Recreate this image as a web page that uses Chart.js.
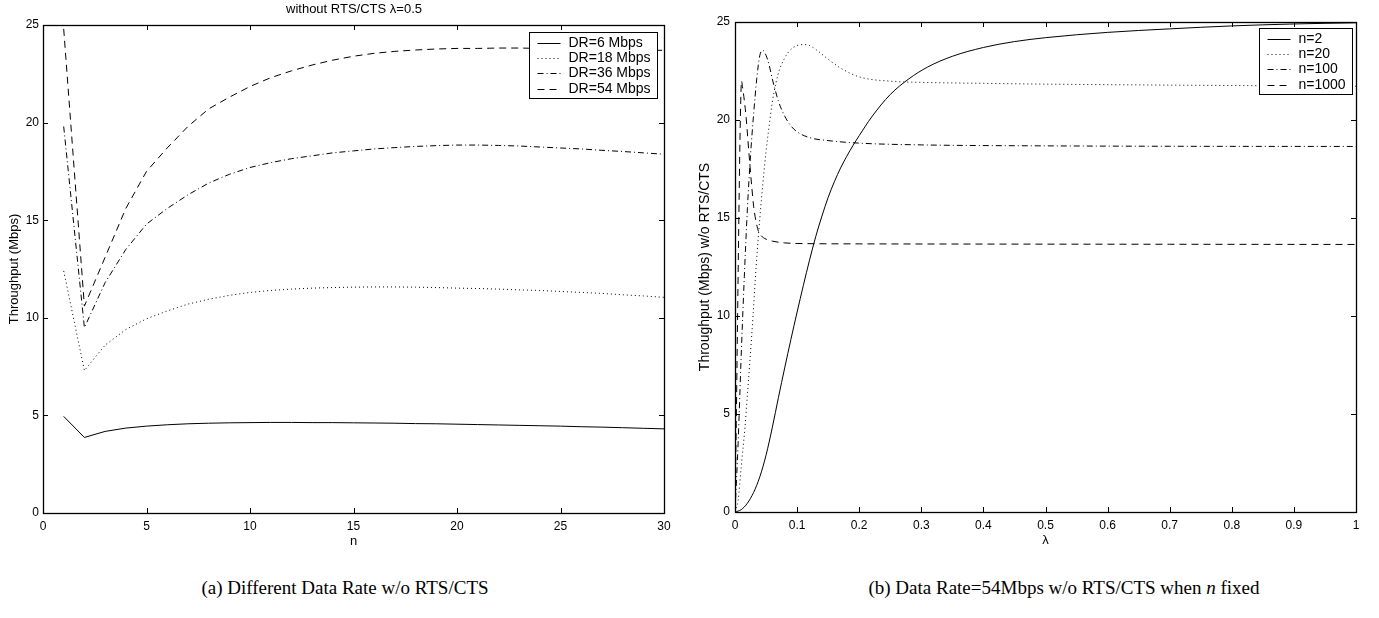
<!DOCTYPE html>
<html>
<head>
<meta charset="utf-8">
<script src="https://cdn.jsdelivr.net/npm/chart.js@4.4.1/dist/chart.umd.min.js"></script>
<style>
  html, body { margin: 0; padding: 0; background: #fff; width: 1379px; height: 618px; overflow: hidden; }
  canvas { position: absolute; top: 0; }
  .txt { position: absolute; color: #000; text-align: center; white-space: nowrap; }
  .ttl { font: 13px "Liberation Sans", Arial, sans-serif; line-height: 16px; }
  .cap { font: 19px "Liberation Serif", "Times New Roman", serif; line-height: 22px; }
</style>
</head>
<body>
<canvas id="c1" width="680" height="551" style="left:0px"></canvas>
<canvas id="c2" width="689" height="550" style="left:690px"></canvas>
<div class="txt ttl" style="left:204px;top:1px;width:300px;">without RTS/CTS λ=0.5</div>
<div class="txt cap" style="left:95px;top:577px;width:500px;">(a) Different Data Rate w/o RTS/CTS</div>
<div class="txt cap" style="left:814px;top:577px;width:500px;">(b) Data Rate=54Mbps w/o RTS/CTS when <i>n</i> fixed</div>
<script>
// ---------- Left chart data: throughput vs number of stations n ----------
const nValues = [1,2,3,4,5,6,7,8,9,10,11,12,13,14,15,16,17,18,19,20,21,22,23,24,25,26,27,28,29,30];
const dr6  = [4.95,3.87,4.18,4.35,4.45,4.52,4.57,4.60,4.62,4.63,4.64,4.64,4.63,4.63,4.62,4.61,4.60,4.58,4.57,4.55,4.53,4.51,4.49,4.47,4.45,4.42,4.40,4.37,4.34,4.31];
const dr18 = [12.4,7.3,8.6,9.4,9.95,10.35,10.7,10.95,11.15,11.3,11.4,11.47,11.52,11.55,11.57,11.58,11.58,11.57,11.55,11.52,11.5,11.47,11.43,11.4,11.35,11.3,11.25,11.18,11.12,11.05];
const dr36 = [19.8,9.5,11.8,13.5,14.8,15.6,16.3,16.9,17.35,17.7,17.95,18.15,18.3,18.45,18.55,18.65,18.72,18.78,18.82,18.85,18.85,18.83,18.8,18.75,18.7,18.65,18.58,18.52,18.45,18.38];
const dr54 = [24.8,10.6,13.1,15.6,17.5,18.7,19.8,20.7,21.3,21.85,22.3,22.65,22.95,23.2,23.4,23.55,23.65,23.72,23.77,23.8,23.8,23.82,23.82,23.8,23.8,23.78,23.76,23.74,23.72,23.7];
const leftLabels = ['DR=6 Mbps','DR=18 Mbps','DR=36 Mbps','DR=54 Mbps'];
const leftXTicks = [0,5,10,15,20,25,30];
const leftYTicks = [0,5,10,15,20,25];

// ---------- Right chart data: throughput vs lambda, n fixed ----------
const lamN2 = [0,0.01,0.02,0.03,0.04,0.05,0.06,0.07,0.08,0.09,0.1,0.11,0.12,0.13,0.14,0.15,0.16,0.17,0.18,0.19,0.2,0.22,0.25,0.28,0.31,0.35,0.4,0.45,0.5,0.6,0.7,0.8,0.9,1.0];
const thrN2 = [0,0.12,0.45,1.0,1.8,2.9,4.3,5.85,7.35,8.8,10.2,11.55,12.85,14.05,15.1,16.05,16.85,17.55,18.15,18.7,19.2,20.15,21.3,22.1,22.7,23.25,23.7,24.0,24.2,24.47,24.65,24.8,24.9,24.96];
const lamN20 = [0,0.005,0.01,0.016,0.02,0.024,0.029,0.034,0.04,0.045,0.05,0.055,0.06,0.066,0.072,0.079,0.087,0.094,0.1,0.11,0.12,0.13,0.15,0.17,0.2,0.25,0.3,0.4,0.5,0.7,1.0];
const thrN20 = [0,0.6,2.3,4.3,6.0,7.7,10.0,12.5,15.0,16.8,18.4,19.7,20.9,21.9,22.6,23.1,23.5,23.7,23.8,23.85,23.8,23.6,23.1,22.65,22.2,21.98,21.92,21.87,21.83,21.78,21.72];
const lamN100 = [0,0.005,0.01,0.015,0.02,0.025,0.03,0.035,0.04,0.045,0.05,0.055,0.06,0.065,0.07,0.08,0.09,0.1,0.12,0.15,0.2,0.3,0.5,0.7,1.0];
const thrN100 = [0,3.5,8.0,12.0,15.5,18.2,20.3,22.1,23.3,23.55,23.3,22.8,22.1,21.5,20.95,20.2,19.7,19.4,19.1,18.95,18.82,18.73,18.68,18.66,18.65];
const lamN1000 = [0,0.002,0.004,0.006,0.008,0.0095,0.0105,0.012,0.015,0.018,0.021,0.024,0.027,0.03,0.034,0.038,0.042,0.05,0.06,0.08,0.1,0.2,0.4,0.7,1.0];
const thrN1000 = [0,4.5,9.5,14.5,19.0,21.3,22.0,21.7,21.0,20.1,18.9,17.7,16.6,15.6,14.8,14.3,14.1,13.92,13.82,13.73,13.7,13.68,13.67,13.66,13.65];
const rightLabels = ['n=2','n=20','n=100','n=1000'];
const rightXTicks = [0,0.1,0.2,0.3,0.4,0.5,0.6,0.7,0.8,0.9,1];
const rightXTickLabels = ['0','0.1','0.2','0.3','0.4','0.5','0.6','0.7','0.8','0.9','1'];
const rightYTicks = [0,5,10,15,20,25];

// ---------- styles ----------
const SOLID = [], DOTTED = [1,3], DASHDOT = [6,3,1,3], DASHED = [7,5];
const styles = [SOLID, DOTTED, DASHDOT, DASHED];
const FONT = "'Liberation Sans', Arial, Helvetica, sans-serif";
Chart.defaults.font.family = FONT;
Chart.defaults.color = '#000';

function pts(xs, ys) { return xs.map((x, i) => ({x: x, y: ys[i]})); }

const frameTicks = {
  id: 'frameTicks',
  afterDatasetsDraw(chart) {
    const {ctx, chartArea: a, scales} = chart;
    const xs = scales.x, ys = scales.y;
    const L = 5;
    ctx.save();
    ctx.strokeStyle = '#000';
    ctx.lineWidth = 1;
    ctx.setLineDash([]);
    ctx.beginPath();
    xs.ticks.forEach(t => {
      const p = Math.round(xs.getPixelForValue(t.value)) + 0.5;
      ctx.moveTo(p, a.bottom); ctx.lineTo(p, a.bottom - L);
      ctx.moveTo(p, a.top); ctx.lineTo(p, a.top + L);
    });
    ys.ticks.forEach(t => {
      const p = Math.round(ys.getPixelForValue(t.value)) + 0.5;
      ctx.moveTo(a.left, p); ctx.lineTo(a.left + L, p);
      ctx.moveTo(a.right, p); ctx.lineTo(a.right - L, p);
    });
    ctx.stroke();

    // legend box
    const o = chart.options.plugins.boxLegend;
    const dsets = chart.data.datasets;
    ctx.font = '14px ' + FONT;
    let tw = 0;
    dsets.forEach(d => { tw = Math.max(tw, ctx.measureText(d.label).width); });
    const rowH = 15.3;
    const bw = Math.round(39 + tw + 7);
    const bh = Math.round(dsets.length * rowH + 5);
    const bx = Math.round(a.right - o.right - bw) + 0.5;
    const by = Math.round(a.top + o.top) + 0.5;
    ctx.fillStyle = '#fff';
    ctx.fillRect(bx, by, bw, bh);
    ctx.lineWidth = 1;
    ctx.strokeRect(bx, by, bw, bh);
    dsets.forEach((d, i) => {
      const yy = Math.round(by + 2.5 + rowH * (i + 0.5)) + 0.5;
      ctx.setLineDash(d.borderDash || []);
      ctx.beginPath();
      ctx.moveTo(bx + 8, yy); ctx.lineTo(bx + 31, yy);
      ctx.stroke();
      ctx.setLineDash([]);
      ctx.fillStyle = '#000';
      ctx.textBaseline = 'middle';
      ctx.textAlign = 'left';
      ctx.fillText(d.label, bx + 39, yy);
    });

    // frame
    ctx.setLineDash([]);
    ctx.lineWidth = 1.3;
    ctx.strokeRect(Math.round(a.left) + 0.5, Math.round(a.top) + 0.5, Math.round(a.width), Math.round(a.height));
    ctx.restore();
  }
};

function makeChart(id, cfg) {
  const datasets = cfg.series.map((s, i) => ({
    label: cfg.labels[i],
    data: s,
    borderColor: '#000',
    borderWidth: 1,
    borderDash: styles[i],
    pointRadius: 0,
    fill: false,
    tension: 0,
    cubicInterpolationMode: cfg.smooth ? 'monotone' : 'default'
  }));
  return new Chart(document.getElementById(id), {
    type: 'line',
    data: {datasets: datasets},
    plugins: [frameTicks],
    options: {
      responsive: false,
      animation: false,
      devicePixelRatio: 1,
      layout: {padding: cfg.padding},
      plugins: {legend: {display: false}, tooltip: {enabled: false}, title: {display: false},
                boxLegend: {right: cfg.legRight, top: cfg.legTop}},
      scales: {
        x: {
          type: 'linear', min: cfg.xMin, max: cfg.xMax,
          grid: {display: false, drawTicks: false},
          border: {display: false},
          afterBuildTicks: s => { s.ticks = cfg.xTicks.map(v => ({value: v})); },
          afterFit: s => { s.height = cfg.xH; },
          ticks: {font: {size: 12}, color: '#000', padding: 6, maxRotation: 0,
                  callback: (v, idx) => cfg.xTickLabels ? cfg.xTickLabels[idx] : String(v)},
          title: {display: true, text: cfg.xTitle, font: {size: 13}, color: '#000', padding: {top: 0, bottom: 2}}
        },
        y: {
          type: 'linear', min: 0, max: 25,
          grid: {display: false, drawTicks: false},
          border: {display: false},
          afterBuildTicks: s => { s.ticks = cfg.yTicks.map(v => ({value: v})); },
          afterFit: s => { s.width = cfg.yW; },
          ticks: {font: {size: 12}, color: '#000', padding: cfg.yTickPad},
          title: {display: true, text: cfg.yTitle, font: {size: cfg.yTitleSize}, color: '#000', padding: {top: cfg.yTitlePad, bottom: 0}}
        }
      }
    }
  });
}

makeChart('c1', {
  series: [pts(nValues, dr6), pts(nValues, dr18), pts(nValues, dr36), pts(nValues, dr54)],
  labels: leftLabels,
  smooth: false,
  xMin: 0, xMax: 30, xTicks: leftXTicks, yTicks: leftYTicks,
  xTitle: 'n', yTitle: 'Throughput (Mbps)',
  padding: {top: 25, right: 16, left: 0, bottom: 0},
  xH: 38, yW: 43, yTitlePad: 7, yTitleSize: 13, yTickPad: 4,
  legRight: 7, legTop: 7
});

makeChart('c2', {
  series: [pts(lamN2, thrN2), pts(lamN20, thrN20), pts(lamN100, thrN100), pts(lamN1000, thrN1000)],
  labels: rightLabels,
  smooth: true,
  xMin: 0, xMax: 1, xTicks: rightXTicks, xTickLabels: rightXTickLabels, yTicks: rightYTicks,
  xTitle: 'λ', yTitle: 'Throughput (Mbps) w/o RTS/CTS',
  padding: {top: 22, right: 23, left: 0, bottom: 0},
  xH: 38, yW: 45, yTitlePad: 7, yTitleSize: 14, yTickPad: 5,
  legRight: 4, legTop: 6
});
</script>
</body>
</html>
